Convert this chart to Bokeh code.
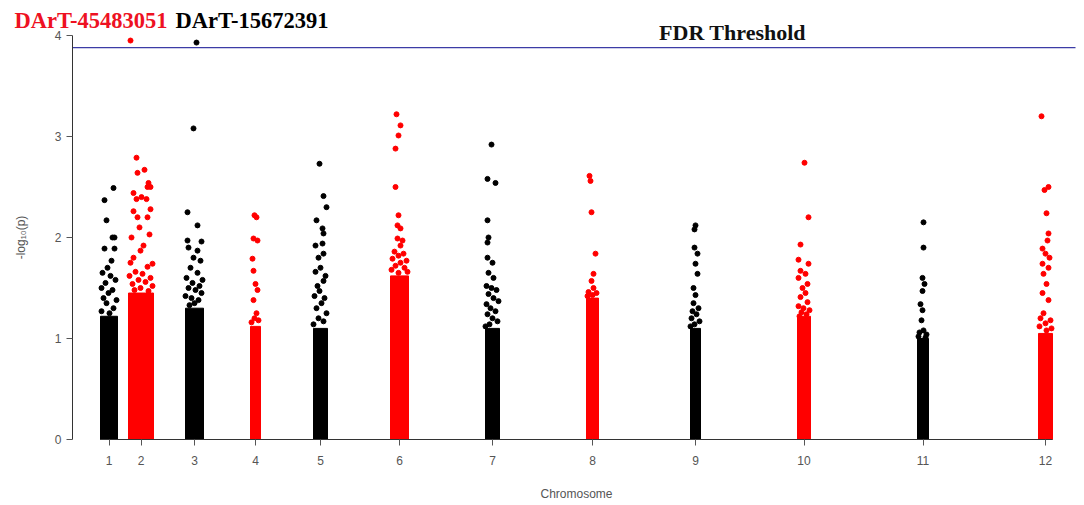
from bokeh.plotting import figure
from bokeh.models import Range1d, Label, FixedTicker, ColumnDataSource
from bokeh.embed import file_html
from bokeh.resources import INLINE

# ---------------- data ----------------
chrom_labels = ["1", "2", "3", "4", "5", "6", "7", "8", "9", "10", "11", "12"]
# cumulative genome position (arbitrary units) spanned by each chromosome's markers
chrom_start = [28, 56, 113, 178, 241, 318, 413, 514, 618, 725, 845, 966]
chrom_end = [45, 81, 131, 188, 255, 336, 427, 526, 628, 738, 856, 980]
genome_end = 1003
# -log10(p) below which the markers form a solid band
dense_top = [1.22, 1.45, 1.30, 1.12, 1.10, 1.62, 1.10, 1.40, 1.10, 1.22, 1.00, 1.05]

fdr_threshold = 3.88

# individual markers above the dense band
snp_chrom = (
    [1] * 22 + [2] * 35 + [3] * 24 + [4] * 13 + [5] * 24 + [6] * 22 +
    [7] * 24 + [8] * 11 + [9] * 16 + [10] * 19 + [11] * 13 + [12] * 22
)
snp_pos = [
    # chr1
    41, 32, 34, 40, 42, 32, 42, 39, 35, 30, 38, 43, 33, 29, 40, 36, 31, 44, 34, 41, 29, 37,
    # chr2
    58, 64, 65, 72, 76, 78, 75, 61, 64, 69, 74, 61, 78, 65, 75, 67, 59, 77, 71, 68, 61, 58,
    80, 75, 63, 70, 57, 78, 66, 73, 60, 80, 68, 62, 76,
    # chr3
    124, 121, 115, 125, 115, 129, 116, 125, 121, 128, 118, 125, 114, 130, 120, 127, 116,
    123, 129, 113, 119, 126, 122, 117,
    # chr4
    182, 184, 181, 185, 180, 181, 183, 185, 181, 184, 182, 186, 179,
    # chr5
    247, 251, 254, 244, 250, 251, 243, 250, 251, 246, 251, 245, 248, 243, 253, 247, 242,
    252, 249, 244, 254, 246, 251, 241,
    # chr6
    324, 328, 326, 323, 323, 326, 325, 328, 325, 330, 328, 322, 331, 326, 320, 334, 328,
    323, 332, 319, 335, 326,
    # chr7
    419, 415, 423, 415, 416, 415, 415, 420, 416, 421, 414, 419, 424, 416, 421, 426, 414,
    418, 423, 415, 420, 425, 417, 413,
    # chr8
    517, 518, 519, 523, 521, 519, 521, 516, 524, 520, 515,
    # chr9
    623, 622, 622, 625, 623, 625, 621, 623, 621, 626, 620, 624, 619, 627, 622, 618,
    # chr10
    732, 736, 728, 726, 736, 728, 733, 726, 735, 730, 733, 728, 735, 726, 731, 737, 729,
    734, 727,
    # chr11
    851, 851, 850, 852, 850, 848, 850, 849, 851, 847, 854, 846, 853,
    # chr12
    969, 972, 976, 974, 976, 975, 970, 973, 977, 970, 976, 971, 974, 970, 976, 971, 968,
    978, 973, 967, 979, 974,
]
snp_logp = [
    # chr1
    2.49, 2.37, 2.17, 2.00, 2.00, 1.89, 1.89, 1.77, 1.70, 1.65, 1.62, 1.58, 1.55, 1.50,
    1.48, 1.45, 1.40, 1.38, 1.35, 1.30, 1.27, 1.25,
    # chr2
    3.95, 2.79, 2.64, 2.67, 2.54, 2.50, 2.50, 2.44, 2.38, 2.40, 2.38, 2.26, 2.28, 2.20,
    2.20, 2.10, 2.00, 2.03, 1.92, 1.87, 1.80, 1.75, 1.74, 1.71, 1.66, 1.64, 1.62, 1.60,
    1.58, 1.56, 1.54, 1.52, 1.50, 1.48, 1.47,
    # chr3
    3.93, 3.08, 2.25, 2.12, 1.97, 1.96, 1.90, 1.87, 1.80, 1.77, 1.70, 1.65, 1.60, 1.58,
    1.55, 1.52, 1.50, 1.48, 1.45, 1.42, 1.40, 1.38, 1.35, 1.33,
    # chr4
    2.22, 2.20, 1.99, 1.97, 1.79, 1.67, 1.54, 1.48, 1.38, 1.25, 1.20, 1.18, 1.16,
    # chr5
    2.73, 2.41, 2.30, 2.17, 2.09, 2.04, 1.92, 1.94, 1.84, 1.80, 1.57, 1.52, 1.70, 1.66,
    1.62, 1.47, 1.42, 1.40, 1.35, 1.30, 1.25, 1.20, 1.17, 1.14,
    # chr6
    3.22, 3.11, 3.01, 2.88, 2.50, 2.22, 2.12, 2.09, 1.99, 1.97, 1.92, 1.86, 1.84, 1.82,
    1.79, 1.77, 1.75, 1.72, 1.70, 1.68, 1.66, 1.65,
    # chr7
    2.92, 2.58, 2.54, 2.17, 2.00, 1.95, 1.80, 1.75, 1.65, 1.60, 1.52, 1.50, 1.48, 1.44,
    1.40, 1.37, 1.34, 1.30, 1.27, 1.24, 1.20, 1.17, 1.14, 1.12,
    # chr8
    2.61, 2.56, 2.25, 1.84, 1.64, 1.57, 1.50, 1.46, 1.45, 1.43, 1.42,
    # chr9
    2.12, 2.08, 1.90, 1.84, 1.74, 1.64, 1.50, 1.43, 1.35, 1.30, 1.27, 1.24, 1.20, 1.17,
    1.14, 1.12,
    # chr10
    2.74, 2.20, 1.93, 1.78, 1.74, 1.67, 1.64, 1.60, 1.54, 1.50, 1.45, 1.41, 1.36, 1.32,
    1.30, 1.28, 1.26, 1.24, 1.22,
    # chr11
    2.15, 1.90, 1.60, 1.54, 1.47, 1.34, 1.28, 1.18, 1.08, 1.06, 1.04, 1.02, 1.01,
    # chr12
    3.20, 2.47, 2.50, 2.24, 2.04, 1.97, 1.89, 1.84, 1.80, 1.74, 1.70, 1.64, 1.54, 1.45,
    1.38, 1.25, 1.20, 1.18, 1.15, 1.12, 1.10, 1.08,
]

top_snp_names = ["DArT-45483051", "DArT-15672391"]
y_ticks = [0, 1, 2, 3, 4]

# ---------------- styling helpers ----------------
BLACK = "#000000"
RED = "#ff0000"
chrom_colors = [BLACK if i % 2 == 0 else RED for i in range(len(chrom_labels))]
centers = [(s + e) / 2 for s, e in zip(chrom_start, chrom_end)]
widths = [e - s for s, e in zip(chrom_start, chrom_end)]

band_src = ColumnDataSource(dict(x=centers, w=widths, top=dense_top, color=chrom_colors))
pt_src = ColumnDataSource(dict(
    x=snp_pos, y=snp_logp,
    color=[chrom_colors[c - 1] for c in snp_chrom],
))

# the frame covers the whole canvas so that the marker names written in the
# margins are not clipped; both axes are pinned at data 0
p = figure(
    width=1084, height=505,
    x_range=Range1d(-72, genome_end + 9), y_range=Range1d(-0.6535, 4.3465),
    output_backend="svg", toolbar_location=None,
    min_border_left=0, min_border_right=0, min_border_top=0, min_border_bottom=0,
)
p.outline_line_color = None
p.grid.visible = False
p.background_fill_color = "white"

p.vbar(x="x", width="w", top="top", bottom=0, color="color", source=band_src)
p.scatter(x="x", y="y", size=5, color="color", source=pt_src)

# FDR threshold line across the plotting region
p.segment(x0=[0], x1=[genome_end], y0=[fdr_threshold], y1=[fdr_threshold],
          line_color="#3c3ca6", line_width=1.3)

# axes
p.xaxis.fixed_location = 0
p.xaxis.ticker = FixedTicker(ticks=centers)
p.xaxis.major_label_overrides = {c: lab for c, lab in zip(centers, chrom_labels)}
p.xaxis.bounds = (chrom_start[0], chrom_end[-1])
p.xaxis.axis_label = "Chromosome"
p.xaxis.major_label_standoff = 11
p.xaxis.axis_label_standoff = 18

p.yaxis.fixed_location = 0
p.yaxis.ticker = FixedTicker(ticks=y_ticks)
p.yaxis.bounds = (0, 4)
p.yaxis.axis_label = "-log\u2081\u2080(p)"
p.yaxis.major_label_standoff = 5
p.yaxis.axis_label_standoff = 24

for ax in (p.xaxis, p.yaxis):
    ax.axis_line_color = "#333333"
    ax.axis_line_width = 1
    ax.major_tick_line_color = "#555555"
    ax.major_tick_out = 6
    ax.major_tick_in = 0
    ax.minor_tick_line_color = None
    ax.major_label_text_font = "Liberation Sans"
    ax.major_label_text_font_size = "12px"
    ax.major_label_text_color = "#555555"
    ax.axis_label_text_font = "Liberation Sans"
    ax.axis_label_text_font_size = "12px"
    ax.axis_label_text_font_style = "normal"
    ax.axis_label_text_color = "#555555"

# annotations
p.add_layout(Label(x=-58, y=4.15, text=top_snp_names[0], text_color="#ee1122",
                   text_font="Liberation Serif", text_font_style="bold",
                   text_font_size="22.5px", text_baseline="middle", text_align="left"))
p.add_layout(Label(x=103, y=4.15, text=top_snp_names[1], text_color=BLACK,
                   text_font="Liberation Serif", text_font_style="bold",
                   text_font_size="22.5px", text_baseline="middle", text_align="left"))
p.add_layout(Label(x=660, y=4.03, text="FDR Threshold", text_color="#111111",
                   text_font="Liberation Serif", text_font_style="bold",
                   text_font_size="22px", text_baseline="middle", text_align="center"))

open("out.html", "w").write(file_html(p, INLINE))
